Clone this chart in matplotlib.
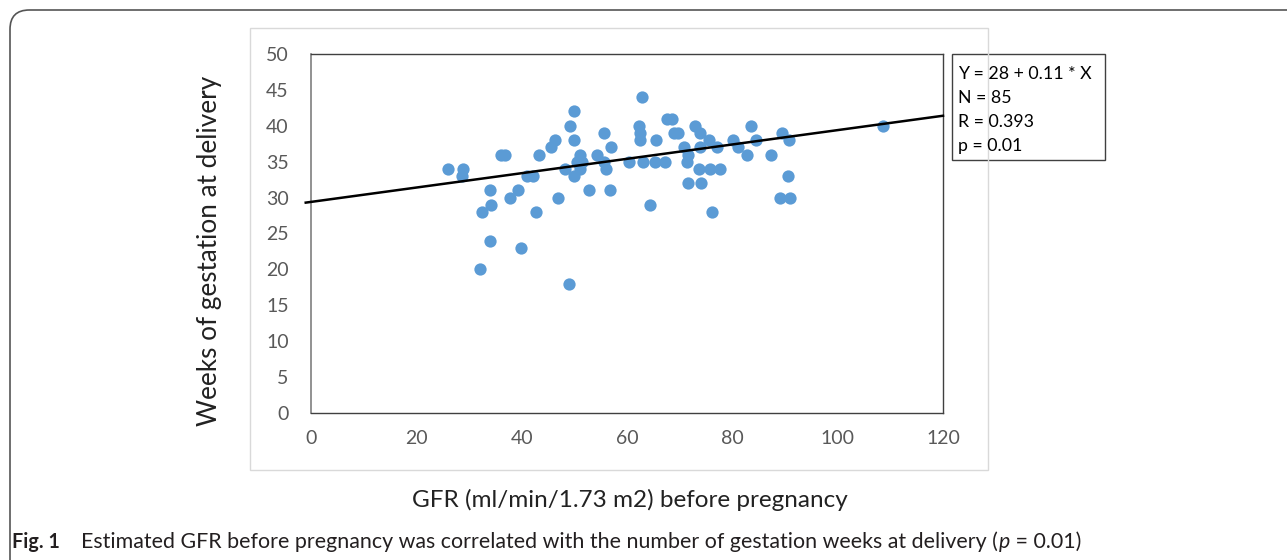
import matplotlib.pyplot as plt
from matplotlib.patches import Rectangle, FancyBboxPatch

# GFR before pregnancy (x) vs weeks of gestation at delivery (y)
gfr = [26, 28.8, 28.6, 32.5, 32, 34, 34.2, 34, 36.1, 36.9, 37.7, 39.3, 39.8,
       41, 42.1, 42.7, 43.3, 45.6, 46.3, 46.9, 48.3, 49, 49.1, 49.9, 50, 49.9,
       51, 50.5, 51.4, 51.1, 52.7, 54.3, 55.6, 56, 55.7, 57, 56.8, 60.3, 62.9,
       62.3, 62.5, 62.4, 63, 64.4, 65.6, 65.4, 67.3, 67.6, 68.5, 68.9, 69.7,
       70.9, 71.5, 71.3, 71.6, 72.9, 73.8, 73.8, 73.6, 74.1, 75.6, 75.8, 77.6,
       76.1, 77.1, 80.1, 81.1, 82.8, 83.5, 84.5, 87.3, 89.4, 90.7, 90.5, 89,
       91, 108.6]
weeks = [34, 34, 33, 28, 20, 31, 29, 24, 36, 36, 30, 31, 23,
         33, 33, 28, 36, 37, 38, 30, 34, 18, 40, 42, 38, 33,
         36, 35, 35, 34, 31, 36, 35, 34, 39, 37, 31, 35, 44,
         40, 39, 38, 35, 29, 38, 35, 35, 41, 41, 39, 39,
         37, 36, 35, 32, 40, 39, 37, 34, 32, 38, 34, 34,
         28, 37, 38, 37, 36, 40, 38, 36, 39, 38, 33, 30,
         30, 40]

# fitted line as drawn in the figure
fit_intercept = 29.4
fit_slope = 0.1
fit_x = [-1, 120]

stats_lines = ["Y = 28 + 0.11 * X", "N = 85", "R = 0.393", "p = 0.01"]

plt.rcParams['font.family'] = ['Lato', 'DejaVu Sans']

W, H = 1287, 560
fig = plt.figure(figsize=(W / 100, H / 100), dpi=100)
ax = fig.add_axes([311 / W, 1 - 413 / H, 632 / W, 359 / H])

ax.scatter(gfr, weeks, s=78, color='#5B9BD5', zorder=3, linewidths=0)
ax.plot(fit_x, [fit_intercept + fit_slope * v for v in fit_x],
        color='black', linewidth=1.8, zorder=4, clip_on=False)

ax.set_xlim(0, 120)
ax.set_ylim(0, 50)
ax.set_xticks(range(0, 121, 20))
ax.set_yticks(range(0, 51, 5))
ax.tick_params(length=0, labelsize=14, labelcolor='#595959', pad=12)
ax.tick_params(axis='y', pad=16)
for side in ['top', 'right', 'bottom']:
    ax.spines[side].set_color('#404040')
    ax.spines[side].set_linewidth(1.0)
ax.spines['left'].set_color('#7f7f7f')
ax.spines['left'].set_linewidth(1.2)

fig.text(210 / W, 1 - 251 / H, "Weeks of gestation at delivery",
         rotation=90, ha='center', va='center', fontsize=18.8, color='#222222')
fig.text(630 / W, 1 - 500 / H, "GFR (ml/min/1.73 m2) before pregnancy",
         ha='center', va='center', fontsize=17.5, color='#222222')

# statistics box
fig.text(958 / W, 1 - 110 / H, "\n".join(stats_lines), ha='left', va='center',
         fontsize=12.8, color='black', linespacing=1.6)
fig.patches.append(Rectangle((952 / W, 1 - 160 / H), 153 / W, 106 / H,
                             transform=fig.transFigure, fill=False,
                             edgecolor='#404040', linewidth=1.0))

# chart area border
fig.patches.append(Rectangle((250 / W, 1 - 470 / H), 738 / W, 442 / H,
                             transform=fig.transFigure, fill=False,
                             edgecolor='#d9d9d9', linewidth=1.0))

# outer rounded panel
fig.patches.append(FancyBboxPatch((10 / W, -20 / H), 1300 / W, 570 / H,
                                  boxstyle="round,pad=0,rounding_size=0.015",
                                  transform=fig.transFigure, fill=False,
                                  edgecolor='#555555', linewidth=1.2,
                                  mutation_aspect=W / H))

# caption, pieces placed one after another
cap_font = ['Lato', 'DejaVu Sans']
cap_y = 1 - 542 / H
renderer = fig.canvas.get_renderer()
pieces = [("Fig. 1", 'bold', 'normal', 0, 14.2),
          ("Estimated GFR before pregnancy was correlated with the number of gestation weeks at delivery (",
           'normal', 'normal', 21, 15.4),
          ("p", 'normal', 'italic', 1, 15.4),
          (" = 0.01)", 'normal', 'normal', 0, 15.4)]
x_px = 12
for txt, weight, style, gap, size in pieces:
    x_px += gap
    t = fig.text(x_px / W, cap_y, txt, ha='left', va='center', fontsize=size,
                 fontweight=weight, fontstyle=style, family=cap_font, color='#231f20')
    x_px += t.get_window_extent(renderer).width

fig.savefig("out.png", dpi=100)
